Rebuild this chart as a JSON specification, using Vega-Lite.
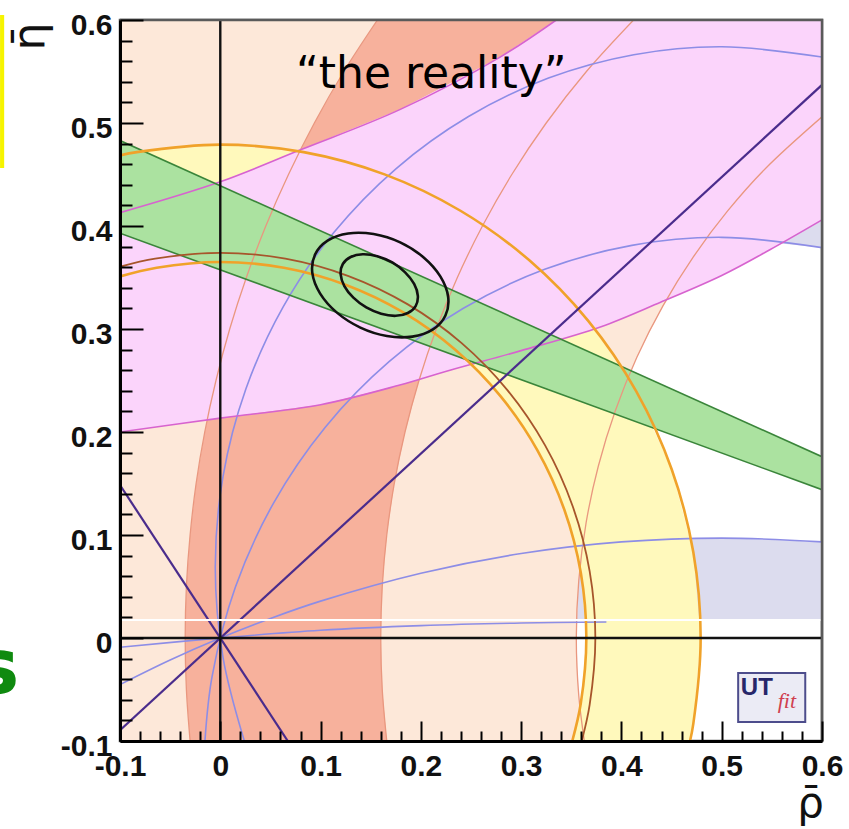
{
  "$schema": "https://vega.github.io/schema/vega-lite/v6.json",
  "width": 702,
  "height": 721,
  "autosize": {"type": "none"},
  "padding": {"left": 120, "top": 20, "right": 27, "bottom": 88},
  "background": "white",
  "config": {
    "view": {"stroke": "#555555", "strokeWidth": 2.5},
    "axis": {
      "grid": false,
      "domainColor": "#000000",
      "domainWidth": 3,
      "tickColor": "#000000",
      "tickWidth": 2,
      "labelFont": "Liberation Sans",
      "labelFontWeight": "bold",
      "labelFontSize": 30,
      "labelColor": "#111111",
      "labelOverlap": false,
      "labelFlush": false,
      "labelBound": false,
      "titleFont": "DejaVu Sans",
      "titleFontWeight": "normal",
      "titleColor": "#111111"
    }
  },
  "datasets": {
    "polys": [
      {"shape": "alphaHi", "i": 0, "x": 0.35, "y": 0.551},
      {"shape": "alphaHi", "i": 1, "x": 0.4123, "y": 0.5663},
      {"shape": "alphaHi", "i": 2, "x": 0.45, "y": 0.5715},
      {"shape": "alphaHi", "i": 3, "x": 0.5, "y": 0.574},
      {"shape": "alphaHi", "i": 4, "x": 0.6, "y": 0.564},
      {"shape": "alphaHi", "i": 5, "x": 0.6, "y": 0.379},
      {"shape": "alphaHi", "i": 6, "x": 0.5, "y": 0.3888},
      {"shape": "alphaHi", "i": 7, "x": 0.45, "y": 0.3863},
      {"shape": "alphaHi", "i": 8, "x": 0.4104, "y": 0.3812},
      {"shape": "alphaHi", "i": 9, "x": 0.35, "y": 0.3665},

      {"shape": "alphaLo", "i": 0, "x": 0.3, "y": 0.082},
      {"shape": "alphaLo", "i": 1, "x": 0.4, "y": 0.0933},
      {"shape": "alphaLo", "i": 2, "x": 0.5, "y": 0.097},
      {"shape": "alphaLo", "i": 3, "x": 0.6, "y": 0.0933},
      {"shape": "alphaLo", "i": 4, "x": 0.6, "y": 0.0175},
      {"shape": "alphaLo", "i": 5, "x": 0.3, "y": 0.0175},

      {"shape": "peach", "i": 0, "x": -0.1, "y": -0.1},
      {"shape": "peach", "i": 1, "x": -0.1, "y": 0.6},
      {"shape": "peach", "i": 2, "x": 0.6, "y": 0.6},
      {"shape": "peach", "i": 3, "x": 0.6, "y": 0.506},
      {"shape": "peach", "i": 4, "x": 0.5439, "y": 0.4561},
      {"shape": "peach", "i": 5, "x": 0.5059, "y": 0.4146},
      {"shape": "peach", "i": 6, "x": 0.4717, "y": 0.37},
      {"shape": "peach", "i": 7, "x": 0.4414, "y": 0.3225},
      {"shape": "peach", "i": 8, "x": 0.4154, "y": 0.2726},
      {"shape": "peach", "i": 9, "x": 0.3939, "y": 0.2206},
      {"shape": "peach", "i": 10, "x": 0.377, "y": 0.167},
      {"shape": "peach", "i": 11, "x": 0.3648, "y": 0.112},
      {"shape": "peach", "i": 12, "x": 0.3575, "y": 0.0562},
      {"shape": "peach", "i": 13, "x": 0.355, "y": 0.0},
      {"shape": "peach", "i": 14, "x": 0.3575, "y": -0.0562},
      {"shape": "peach", "i": 15, "x": 0.363, "y": -0.1},

      {"shape": "salmon", "i": 0, "x": -0.0301, "y": -0.1},
      {"shape": "salmon", "i": 1, "x": -0.0338, "y": -0.05},
      {"shape": "salmon", "i": 2, "x": -0.035, "y": 0.0},
      {"shape": "salmon", "i": 3, "x": -0.0338, "y": 0.05},
      {"shape": "salmon", "i": 4, "x": -0.0301, "y": 0.1},
      {"shape": "salmon", "i": 5, "x": -0.0241, "y": 0.15},
      {"shape": "salmon", "i": 6, "x": -0.0155, "y": 0.2},
      {"shape": "salmon", "i": 7, "x": -0.0043, "y": 0.25},
      {"shape": "salmon", "i": 8, "x": 0.0094, "y": 0.3},
      {"shape": "salmon", "i": 9, "x": 0.026, "y": 0.35},
      {"shape": "salmon", "i": 10, "x": 0.0454, "y": 0.4},
      {"shape": "salmon", "i": 11, "x": 0.068, "y": 0.45},
      {"shape": "salmon", "i": 12, "x": 0.0938, "y": 0.5},
      {"shape": "salmon", "i": 13, "x": 0.1232, "y": 0.55},
      {"shape": "salmon", "i": 14, "x": 0.1567, "y": 0.6},
      {"shape": "salmon", "i": 15, "x": 0.4121, "y": 0.6},
      {"shape": "salmon", "i": 16, "x": 0.3651, "y": 0.55},
      {"shape": "salmon", "i": 17, "x": 0.325, "y": 0.5},
      {"shape": "salmon", "i": 18, "x": 0.2907, "y": 0.45},
      {"shape": "salmon", "i": 19, "x": 0.2614, "y": 0.4},
      {"shape": "salmon", "i": 20, "x": 0.2364, "y": 0.35},
      {"shape": "salmon", "i": 21, "x": 0.2154, "y": 0.3},
      {"shape": "salmon", "i": 22, "x": 0.1981, "y": 0.25},
      {"shape": "salmon", "i": 23, "x": 0.1842, "y": 0.2},
      {"shape": "salmon", "i": 24, "x": 0.1735, "y": 0.15},
      {"shape": "salmon", "i": 25, "x": 0.166, "y": 0.1},
      {"shape": "salmon", "i": 26, "x": 0.1615, "y": 0.05},
      {"shape": "salmon", "i": 27, "x": 0.16, "y": 0.0},
      {"shape": "salmon", "i": 28, "x": 0.1615, "y": -0.05},
      {"shape": "salmon", "i": 29, "x": 0.166, "y": -0.1},

      {"shape": "yellow", "i": 0, "x": -0.1, "y": 0.4685},
      {"shape": "yellow", "i": 1, "x": -0.0832, "y": 0.4717},
      {"shape": "yellow", "i": 2, "x": 0.0, "y": 0.479},
      {"shape": "yellow", "i": 3, "x": 0.0832, "y": 0.4717},
      {"shape": "yellow", "i": 4, "x": 0.1638, "y": 0.4501},
      {"shape": "yellow", "i": 5, "x": 0.2395, "y": 0.4148},
      {"shape": "yellow", "i": 6, "x": 0.3079, "y": 0.3669},
      {"shape": "yellow", "i": 7, "x": 0.3669, "y": 0.3079},
      {"shape": "yellow", "i": 8, "x": 0.4148, "y": 0.2395},
      {"shape": "yellow", "i": 9, "x": 0.4501, "y": 0.1638},
      {"shape": "yellow", "i": 10, "x": 0.4717, "y": 0.0832},
      {"shape": "yellow", "i": 11, "x": 0.479, "y": 0.0},
      {"shape": "yellow", "i": 12, "x": 0.4717, "y": -0.0832},
      {"shape": "yellow", "i": 13, "x": 0.4684, "y": -0.1},
      {"shape": "yellow", "i": 14, "x": 0.351, "y": -0.1},
      {"shape": "yellow", "i": 15, "x": 0.3595, "y": -0.0634},
      {"shape": "yellow", "i": 16, "x": 0.365, "y": 0.0},
      {"shape": "yellow", "i": 17, "x": 0.3595, "y": 0.0634},
      {"shape": "yellow", "i": 18, "x": 0.343, "y": 0.1248},
      {"shape": "yellow", "i": 19, "x": 0.3161, "y": 0.1825},
      {"shape": "yellow", "i": 20, "x": 0.2796, "y": 0.2346},
      {"shape": "yellow", "i": 21, "x": 0.2346, "y": 0.2796},
      {"shape": "yellow", "i": 22, "x": 0.1825, "y": 0.3161},
      {"shape": "yellow", "i": 23, "x": 0.1248, "y": 0.343},
      {"shape": "yellow", "i": 24, "x": 0.0634, "y": 0.3595},
      {"shape": "yellow", "i": 25, "x": 0.0, "y": 0.365},
      {"shape": "yellow", "i": 26, "x": -0.0634, "y": 0.3595},
      {"shape": "yellow", "i": 27, "x": -0.1, "y": 0.351},

      {"shape": "pink", "i": 0, "x": -0.1, "y": 0.2},
      {"shape": "pink", "i": 1, "x": 0.0, "y": 0.2135},
      {"shape": "pink", "i": 2, "x": 0.1, "y": 0.2265},
      {"shape": "pink", "i": 3, "x": 0.179, "y": 0.2456},
      {"shape": "pink", "i": 4, "x": 0.229, "y": 0.26},
      {"shape": "pink", "i": 5, "x": 0.3, "y": 0.279},
      {"shape": "pink", "i": 6, "x": 0.379, "y": 0.302},
      {"shape": "pink", "i": 7, "x": 0.439, "y": 0.326},
      {"shape": "pink", "i": 8, "x": 0.5, "y": 0.352},
      {"shape": "pink", "i": 9, "x": 0.548, "y": 0.377},
      {"shape": "pink", "i": 10, "x": 0.6, "y": 0.406},
      {"shape": "pink", "i": 11, "x": 0.6, "y": 0.6},
      {"shape": "pink", "i": 12, "x": 0.335, "y": 0.6},
      {"shape": "pink", "i": 13, "x": 0.279, "y": 0.564},
      {"shape": "pink", "i": 14, "x": 0.179, "y": 0.513},
      {"shape": "pink", "i": 15, "x": 0.08, "y": 0.474},
      {"shape": "pink", "i": 16, "x": 0.0, "y": 0.443},
      {"shape": "pink", "i": 17, "x": -0.1, "y": 0.413},

      {"shape": "green", "i": 0, "x": -0.1, "y": 0.483},
      {"shape": "green", "i": 1, "x": 0.6, "y": 0.176},
      {"shape": "green", "i": 2, "x": 0.6, "y": 0.144},
      {"shape": "green", "i": 3, "x": -0.1, "y": 0.393}
    ],
    "curves": [
      {"k": "edge", "id": "A", "i": 0, "x": -0.0301, "y": -0.1},
      {"k": "edge", "id": "A", "i": 1, "x": -0.0338, "y": -0.05},
      {"k": "edge", "id": "A", "i": 2, "x": -0.035, "y": 0.0},
      {"k": "edge", "id": "A", "i": 3, "x": -0.0338, "y": 0.05},
      {"k": "edge", "id": "A", "i": 4, "x": -0.0301, "y": 0.1},
      {"k": "edge", "id": "A", "i": 5, "x": -0.0241, "y": 0.15},
      {"k": "edge", "id": "A", "i": 6, "x": -0.0155, "y": 0.2},
      {"k": "edge", "id": "A", "i": 7, "x": -0.0043, "y": 0.25},
      {"k": "edge", "id": "A", "i": 8, "x": 0.0094, "y": 0.3},
      {"k": "edge", "id": "A", "i": 9, "x": 0.026, "y": 0.35},
      {"k": "edge", "id": "A", "i": 10, "x": 0.0454, "y": 0.4},
      {"k": "edge", "id": "A", "i": 11, "x": 0.068, "y": 0.45},
      {"k": "edge", "id": "A", "i": 12, "x": 0.0938, "y": 0.5},
      {"k": "edge", "id": "A", "i": 13, "x": 0.1232, "y": 0.55},
      {"k": "edge", "id": "A", "i": 14, "x": 0.1567, "y": 0.6},
      {"k": "edge", "id": "B", "i": 0, "x": 0.166, "y": -0.1},
      {"k": "edge", "id": "B", "i": 1, "x": 0.1615, "y": -0.05},
      {"k": "edge", "id": "B", "i": 2, "x": 0.16, "y": 0.0},
      {"k": "edge", "id": "B", "i": 3, "x": 0.1615, "y": 0.05},
      {"k": "edge", "id": "B", "i": 4, "x": 0.166, "y": 0.1},
      {"k": "edge", "id": "B", "i": 5, "x": 0.1735, "y": 0.15},
      {"k": "edge", "id": "B", "i": 6, "x": 0.1842, "y": 0.2},
      {"k": "edge", "id": "B", "i": 7, "x": 0.1981, "y": 0.25},
      {"k": "edge", "id": "B", "i": 8, "x": 0.2154, "y": 0.3},
      {"k": "edge", "id": "B", "i": 9, "x": 0.2364, "y": 0.35},
      {"k": "edge", "id": "B", "i": 10, "x": 0.2614, "y": 0.4},
      {"k": "edge", "id": "B", "i": 11, "x": 0.2907, "y": 0.45},
      {"k": "edge", "id": "B", "i": 12, "x": 0.325, "y": 0.5},
      {"k": "edge", "id": "B", "i": 13, "x": 0.3651, "y": 0.55},
      {"k": "edge", "id": "B", "i": 14, "x": 0.4121, "y": 0.6},
      {"k": "edge", "id": "C", "i": 0, "x": 0.363, "y": -0.1},
      {"k": "edge", "id": "C", "i": 1, "x": 0.3575, "y": -0.0562},
      {"k": "edge", "id": "C", "i": 2, "x": 0.355, "y": 0.0},
      {"k": "edge", "id": "C", "i": 3, "x": 0.3575, "y": 0.0562},
      {"k": "edge", "id": "C", "i": 4, "x": 0.3648, "y": 0.112},
      {"k": "edge", "id": "C", "i": 5, "x": 0.377, "y": 0.167},
      {"k": "edge", "id": "C", "i": 6, "x": 0.3939, "y": 0.2206},
      {"k": "edge", "id": "C", "i": 7, "x": 0.4154, "y": 0.2726},
      {"k": "edge", "id": "C", "i": 8, "x": 0.4414, "y": 0.3225},
      {"k": "edge", "id": "C", "i": 9, "x": 0.4717, "y": 0.37},
      {"k": "edge", "id": "C", "i": 10, "x": 0.5059, "y": 0.4146},
      {"k": "edge", "id": "C", "i": 11, "x": 0.5439, "y": 0.4561},
      {"k": "edge", "id": "C", "i": 12, "x": 0.6, "y": 0.506},

      {"k": "alpha", "id": "b1", "i": 0, "x": 0.024, "y": -0.1},
      {"k": "alpha", "id": "b1", "i": 1, "x": 0.0027, "y": -0.0187},
      {"k": "alpha", "id": "b1", "i": 2, "x": -0.005, "y": 0.069},
      {"k": "alpha", "id": "b1", "i": 3, "x": 0.0027, "y": 0.1567},
      {"k": "alpha", "id": "b1", "i": 4, "x": 0.0255, "y": 0.2417},
      {"k": "alpha", "id": "b1", "i": 5, "x": 0.0627, "y": 0.3215},
      {"k": "alpha", "id": "b1", "i": 6, "x": 0.1132, "y": 0.3936},
      {"k": "alpha", "id": "b1", "i": 7, "x": 0.1754, "y": 0.4558},
      {"k": "alpha", "id": "b1", "i": 8, "x": 0.2475, "y": 0.5063},
      {"k": "alpha", "id": "b1", "i": 9, "x": 0.3273, "y": 0.5436},
      {"k": "alpha", "id": "b1", "i": 10, "x": 0.4123, "y": 0.5663},
      {"k": "alpha", "id": "b1", "i": 11, "x": 0.5, "y": 0.574},
      {"k": "alpha", "id": "b1", "i": 12, "x": 0.6, "y": 0.564},
      {"k": "alpha", "id": "b2", "i": 0, "x": -0.0153, "y": -0.1},
      {"k": "alpha", "id": "b2", "i": 1, "x": -0.0082, "y": -0.0374},
      {"k": "alpha", "id": "b2", "i": 2, "x": 0.0151, "y": 0.0495},
      {"k": "alpha", "id": "b2", "i": 3, "x": 0.0531, "y": 0.131},
      {"k": "alpha", "id": "b2", "i": 4, "x": 0.1047, "y": 0.2047},
      {"k": "alpha", "id": "b2", "i": 5, "x": 0.1683, "y": 0.2683},
      {"k": "alpha", "id": "b2", "i": 6, "x": 0.242, "y": 0.3199},
      {"k": "alpha", "id": "b2", "i": 7, "x": 0.3235, "y": 0.3579},
      {"k": "alpha", "id": "b2", "i": 8, "x": 0.4104, "y": 0.3812},
      {"k": "alpha", "id": "b2", "i": 9, "x": 0.5, "y": 0.389},
      {"k": "alpha", "id": "b2", "i": 10, "x": 0.6, "y": 0.379},
      {"k": "alpha", "id": "b3", "i": 0, "x": -0.1, "y": -0.0452},
      {"k": "alpha", "id": "b3", "i": 1, "x": -0.05, "y": -0.0213},
      {"k": "alpha", "id": "b3", "i": 2, "x": 0.0, "y": 0.0},
      {"k": "alpha", "id": "b3", "i": 3, "x": 0.05, "y": 0.019},
      {"k": "alpha", "id": "b3", "i": 4, "x": 0.1, "y": 0.0358},
      {"k": "alpha", "id": "b3", "i": 5, "x": 0.2, "y": 0.0629},
      {"k": "alpha", "id": "b3", "i": 6, "x": 0.3, "y": 0.082},
      {"k": "alpha", "id": "b3", "i": 7, "x": 0.4, "y": 0.0933},
      {"k": "alpha", "id": "b3", "i": 8, "x": 0.5, "y": 0.097},
      {"k": "alpha", "id": "b3", "i": 9, "x": 0.6, "y": 0.0933},
      {"k": "alpha", "id": "b4", "i": 0, "x": -0.1, "y": -0.009},
      {"k": "alpha", "id": "b4", "i": 1, "x": 0.0, "y": 0.0},
      {"k": "alpha", "id": "b4", "i": 2, "x": 0.1, "y": 0.0075},
      {"k": "alpha", "id": "b4", "i": 3, "x": 0.2, "y": 0.012},
      {"k": "alpha", "id": "b4", "i": 4, "x": 0.3, "y": 0.0145},
      {"k": "alpha", "id": "b4", "i": 5, "x": 0.385, "y": 0.0155},

      {"k": "mag", "id": "m1", "i": 0, "x": -0.1, "y": 0.2},
      {"k": "mag", "id": "m1", "i": 1, "x": 0.0, "y": 0.2135},
      {"k": "mag", "id": "m1", "i": 2, "x": 0.1, "y": 0.2265},
      {"k": "mag", "id": "m1", "i": 3, "x": 0.179, "y": 0.2456},
      {"k": "mag", "id": "m1", "i": 4, "x": 0.229, "y": 0.26},
      {"k": "mag", "id": "m1", "i": 5, "x": 0.3, "y": 0.279},
      {"k": "mag", "id": "m1", "i": 6, "x": 0.379, "y": 0.302},
      {"k": "mag", "id": "m1", "i": 7, "x": 0.439, "y": 0.326},
      {"k": "mag", "id": "m1", "i": 8, "x": 0.5, "y": 0.352},
      {"k": "mag", "id": "m1", "i": 9, "x": 0.548, "y": 0.377},
      {"k": "mag", "id": "m1", "i": 10, "x": 0.6, "y": 0.406},
      {"k": "mag", "id": "m2", "i": 0, "x": -0.1, "y": 0.413},
      {"k": "mag", "id": "m2", "i": 1, "x": 0.0, "y": 0.443},
      {"k": "mag", "id": "m2", "i": 2, "x": 0.08, "y": 0.474},
      {"k": "mag", "id": "m2", "i": 3, "x": 0.179, "y": 0.513},
      {"k": "mag", "id": "m2", "i": 4, "x": 0.279, "y": 0.564},
      {"k": "mag", "id": "m2", "i": 5, "x": 0.335, "y": 0.6},

      {"k": "grn", "id": "gu", "i": 0, "x": -0.1, "y": 0.483},
      {"k": "grn", "id": "gu", "i": 1, "x": 0.6, "y": 0.176},
      {"k": "grn", "id": "gl", "i": 0, "x": -0.1, "y": 0.393},
      {"k": "grn", "id": "gl", "i": 1, "x": 0.6, "y": 0.144},

      {"k": "gamma", "id": "g1", "i": 0, "x": -0.1, "y": -0.0895},
      {"k": "gamma", "id": "g1", "i": 1, "x": 0.6, "y": 0.537},
      {"k": "gamma", "id": "g2", "i": 0, "x": -0.1, "y": 0.1485},
      {"k": "gamma", "id": "g2", "i": 1, "x": 0.0673, "y": -0.1},

      {"k": "orange", "id": "oo", "i": 0, "x": -0.1, "y": 0.4685},
      {"k": "orange", "id": "oo", "i": 1, "x": -0.0832, "y": 0.4717},
      {"k": "orange", "id": "oo", "i": 2, "x": 0.0, "y": 0.479},
      {"k": "orange", "id": "oo", "i": 3, "x": 0.0832, "y": 0.4717},
      {"k": "orange", "id": "oo", "i": 4, "x": 0.1638, "y": 0.4501},
      {"k": "orange", "id": "oo", "i": 5, "x": 0.2395, "y": 0.4148},
      {"k": "orange", "id": "oo", "i": 6, "x": 0.3079, "y": 0.3669},
      {"k": "orange", "id": "oo", "i": 7, "x": 0.3669, "y": 0.3079},
      {"k": "orange", "id": "oo", "i": 8, "x": 0.4148, "y": 0.2395},
      {"k": "orange", "id": "oo", "i": 9, "x": 0.4501, "y": 0.1638},
      {"k": "orange", "id": "oo", "i": 10, "x": 0.4717, "y": 0.0832},
      {"k": "orange", "id": "oo", "i": 11, "x": 0.479, "y": 0.0},
      {"k": "orange", "id": "oo", "i": 12, "x": 0.4717, "y": -0.0832},
      {"k": "orange", "id": "oo", "i": 13, "x": 0.4684, "y": -0.1},
      {"k": "orange", "id": "oi", "i": 0, "x": 0.351, "y": -0.1},
      {"k": "orange", "id": "oi", "i": 1, "x": 0.3595, "y": -0.0634},
      {"k": "orange", "id": "oi", "i": 2, "x": 0.365, "y": 0.0},
      {"k": "orange", "id": "oi", "i": 3, "x": 0.3595, "y": 0.0634},
      {"k": "orange", "id": "oi", "i": 4, "x": 0.343, "y": 0.1248},
      {"k": "orange", "id": "oi", "i": 5, "x": 0.3161, "y": 0.1825},
      {"k": "orange", "id": "oi", "i": 6, "x": 0.2796, "y": 0.2346},
      {"k": "orange", "id": "oi", "i": 7, "x": 0.2346, "y": 0.2796},
      {"k": "orange", "id": "oi", "i": 8, "x": 0.1825, "y": 0.3161},
      {"k": "orange", "id": "oi", "i": 9, "x": 0.1248, "y": 0.343},
      {"k": "orange", "id": "oi", "i": 10, "x": 0.0634, "y": 0.3595},
      {"k": "orange", "id": "oi", "i": 11, "x": 0.0, "y": 0.365},
      {"k": "orange", "id": "oi", "i": 12, "x": -0.0634, "y": 0.3595},
      {"k": "orange", "id": "oi", "i": 13, "x": -0.1, "y": 0.351},

      {"k": "brown", "id": "br", "i": 0, "x": 0.3604, "y": -0.1},
      {"k": "brown", "id": "br", "i": 1, "x": 0.3683, "y": -0.0649},
      {"k": "brown", "id": "br", "i": 2, "x": 0.374, "y": 0.0},
      {"k": "brown", "id": "br", "i": 3, "x": 0.3683, "y": 0.0649},
      {"k": "brown", "id": "br", "i": 4, "x": 0.3514, "y": 0.1279},
      {"k": "brown", "id": "br", "i": 5, "x": 0.3239, "y": 0.187},
      {"k": "brown", "id": "br", "i": 6, "x": 0.2865, "y": 0.2404},
      {"k": "brown", "id": "br", "i": 7, "x": 0.2404, "y": 0.2865},
      {"k": "brown", "id": "br", "i": 8, "x": 0.187, "y": 0.3239},
      {"k": "brown", "id": "br", "i": 9, "x": 0.1279, "y": 0.3514},
      {"k": "brown", "id": "br", "i": 10, "x": 0.0649, "y": 0.3683},
      {"k": "brown", "id": "br", "i": 11, "x": 0.0, "y": 0.374},
      {"k": "brown", "id": "br", "i": 12, "x": -0.0649, "y": 0.3683},
      {"k": "brown", "id": "br", "i": 13, "x": -0.1, "y": 0.3604},

      {"k": "zero", "id": "vz", "i": 0, "x": 0.0, "y": -0.1},
      {"k": "zero", "id": "vz", "i": 1, "x": 0.0, "y": 0.6},
      {"k": "zero", "id": "hz", "i": 0, "x": -0.1, "y": 0.0},
      {"k": "zero", "id": "hz", "i": 1, "x": 0.6, "y": 0.0},

      {"k": "gap", "id": "gp", "i": 0, "x": -0.1, "y": 0.0175},
      {"k": "gap", "id": "gp", "i": 1, "x": 0.6, "y": 0.0175},

      {"k": "frame", "id": "fr", "i": 0, "x": -0.1, "y": 0.6},
      {"k": "frame", "id": "fr", "i": 1, "x": 0.6, "y": 0.6},
      {"k": "frame", "id": "fr", "i": 2, "x": 0.6, "y": -0.1}
    ],
    "contours": [
      {"id": "outer", "i": 0, "x": 0.2245, "y": 0.3131},
      {"id": "outer", "i": 1, "x": 0.2121, "y": 0.2996},
      {"id": "outer", "i": 2, "x": 0.1915, "y": 0.2926},
      {"id": "outer", "i": 3, "x": 0.1661, "y": 0.2932},
      {"id": "outer", "i": 4, "x": 0.1397, "y": 0.3014},
      {"id": "outer", "i": 5, "x": 0.1163, "y": 0.3159},
      {"id": "outer", "i": 6, "x": 0.0996, "y": 0.3344},
      {"id": "outer", "i": 7, "x": 0.0918, "y": 0.3542},
      {"id": "outer", "i": 8, "x": 0.0945, "y": 0.3723},
      {"id": "outer", "i": 9, "x": 0.107, "y": 0.3858},
      {"id": "outer", "i": 10, "x": 0.1275, "y": 0.3928},
      {"id": "outer", "i": 11, "x": 0.1529, "y": 0.3922},
      {"id": "outer", "i": 12, "x": 0.1794, "y": 0.3841},
      {"id": "outer", "i": 13, "x": 0.2028, "y": 0.3695},
      {"id": "outer", "i": 14, "x": 0.2194, "y": 0.3511},
      {"id": "outer", "i": 15, "x": 0.2272, "y": 0.3313},
      {"id": "inner", "i": 0, "x": 0.1948, "y": 0.3223},
      {"id": "inner", "i": 1, "x": 0.187, "y": 0.3155},
      {"id": "inner", "i": 2, "x": 0.175, "y": 0.3128},
      {"id": "inner", "i": 3, "x": 0.1604, "y": 0.3148},
      {"id": "inner", "i": 4, "x": 0.1456, "y": 0.3209},
      {"id": "inner", "i": 5, "x": 0.1327, "y": 0.3304},
      {"id": "inner", "i": 6, "x": 0.1237, "y": 0.3417},
      {"id": "inner", "i": 7, "x": 0.12, "y": 0.3532},
      {"id": "inner", "i": 8, "x": 0.1222, "y": 0.3631},
      {"id": "inner", "i": 9, "x": 0.13, "y": 0.3699},
      {"id": "inner", "i": 10, "x": 0.1421, "y": 0.3726},
      {"id": "inner", "i": 11, "x": 0.1566, "y": 0.3707},
      {"id": "inner", "i": 12, "x": 0.1715, "y": 0.3646},
      {"id": "inner", "i": 13, "x": 0.1843, "y": 0.355},
      {"id": "inner", "i": 14, "x": 0.1933, "y": 0.3438},
      {"id": "inner", "i": 15, "x": 0.197, "y": 0.3322}
    ]
  },
  "encoding": {
    "x": {
      "field": "x",
      "type": "quantitative",
      "scale": {"domain": [-0.1, 0.6], "nice": false, "zero": false},
      "axis": {
        "zindex": 2,
        "title": "ρ̄",
        "titleFontSize": 42,
        "titleX": 690,
        "titleY": 62,
        "titleAlign": "center",
        "titleBaseline": "middle",
        "values": [-0.1, -0.08, -0.06, -0.04, -0.02, 0, 0.02, 0.04, 0.06, 0.08, 0.1, 0.12, 0.14, 0.16, 0.18, 0.2, 0.22, 0.24, 0.26, 0.28, 0.3, 0.32, 0.34, 0.36, 0.38, 0.4, 0.42, 0.44, 0.46, 0.48, 0.5, 0.52, 0.54, 0.56, 0.58, 0.6],
        "labelExpr": "abs(datum.value * 10 - round(datum.value * 10)) < 1e-6 ? (datum.value < -1e-9 ? '-' : '') + format(abs(datum.value), '.1~f') : ''",
        "tickSize": {"condition": {"test": "abs(datum.value * 10 - round(datum.value * 10)) < 1e-6", "value": -20}, "value": -10},
        "labelPadding": 30,
        "labelBaseline": "top"
      }
    },
    "y": {
      "field": "y",
      "type": "quantitative",
      "scale": {"domain": [-0.1, 0.6], "nice": false, "zero": false},
      "axis": {
        "zindex": 2,
        "title": "η̄",
        "titleFontSize": 44,
        "titleX": -90,
        "titleY": 16,
        "titleAngle": 270,
        "titleAlign": "center",
        "titleBaseline": "middle",
        "values": [-0.1, -0.08, -0.06, -0.04, -0.02, 0, 0.02, 0.04, 0.06, 0.08, 0.1, 0.12, 0.14, 0.16, 0.18, 0.2, 0.22, 0.24, 0.26, 0.28, 0.3, 0.32, 0.34, 0.36, 0.38, 0.4, 0.42, 0.44, 0.46, 0.48, 0.5, 0.52, 0.54, 0.56, 0.58, 0.6],
        "labelExpr": "abs(datum.value * 10 - round(datum.value * 10)) < 1e-6 ? (datum.value < -1e-9 ? '-' : '') + format(abs(datum.value), '.1~f') : ''",
        "tickSize": {"condition": {"test": "abs(datum.value * 10 - round(datum.value * 10)) < 1e-6", "value": -23}, "value": -12},
        "labelPadding": 31,
        "labelOffset": 5
      }
    }
  },
  "layer": [
    {"data": {"name": "polys"}, "transform": [{"filter": "datum.shape === 'alphaHi'"}],
     "mark": {"type": "line", "fill": "#dcdcee", "stroke": null, "clip": true},
     "encoding": {"order": {"field": "i", "type": "quantitative"}}},
    {"data": {"name": "polys"}, "transform": [{"filter": "datum.shape === 'alphaLo'"}],
     "mark": {"type": "line", "fill": "#dcdcee", "stroke": null, "clip": true},
     "encoding": {"order": {"field": "i", "type": "quantitative"}}},
    {"data": {"name": "polys"}, "transform": [{"filter": "datum.shape === 'peach'"}],
     "mark": {"type": "line", "fill": "#fde8d9", "stroke": null, "clip": true},
     "encoding": {"order": {"field": "i", "type": "quantitative"}}},
    {"data": {"name": "polys"}, "transform": [{"filter": "datum.shape === 'salmon'"}],
     "mark": {"type": "line", "fill": "#f7b19c", "stroke": null, "clip": true},
     "encoding": {"order": {"field": "i", "type": "quantitative"}}},
    {"data": {"name": "polys"}, "transform": [{"filter": "datum.shape === 'yellow'"}],
     "mark": {"type": "line", "fill": "#fff9bc", "stroke": null, "clip": true},
     "encoding": {"order": {"field": "i", "type": "quantitative"}}},
    {"data": {"name": "polys"}, "transform": [{"filter": "datum.shape === 'pink'"}],
     "mark": {"type": "line", "fill": "#fbd4fb", "stroke": null, "clip": true},
     "encoding": {"order": {"field": "i", "type": "quantitative"}}},
    {"data": {"name": "polys"}, "transform": [{"filter": "datum.shape === 'green'"}],
     "mark": {"type": "line", "fill": "#abe2a0", "stroke": null, "clip": true},
     "encoding": {"order": {"field": "i", "type": "quantitative"}}},

    {"data": {"name": "curves"}, "transform": [{"filter": "datum.k === 'edge'"}],
     "mark": {"type": "line", "stroke": "#e9977f", "strokeWidth": 1.3, "interpolate": "catmull-rom", "clip": true},
     "encoding": {"order": {"field": "i", "type": "quantitative"}, "detail": {"field": "id"}}},
    {"data": {"name": "curves"}, "transform": [{"filter": "datum.k === 'alpha'"}],
     "mark": {"type": "line", "stroke": "#8d8de6", "strokeWidth": 1.6, "interpolate": "catmull-rom", "clip": true},
     "encoding": {"order": {"field": "i", "type": "quantitative"}, "detail": {"field": "id"}}},
    {"data": {"name": "curves"}, "transform": [{"filter": "datum.k === 'mag'"}],
     "mark": {"type": "line", "stroke": "#d763cf", "strokeWidth": 1.6, "interpolate": "catmull-rom", "clip": true},
     "encoding": {"order": {"field": "i", "type": "quantitative"}, "detail": {"field": "id"}}},
    {"data": {"name": "curves"}, "transform": [{"filter": "datum.k === 'grn'"}],
     "mark": {"type": "line", "stroke": "#3a853a", "strokeWidth": 1.6, "clip": true},
     "encoding": {"order": {"field": "i", "type": "quantitative"}, "detail": {"field": "id"}}},
    {"data": {"name": "curves"}, "transform": [{"filter": "datum.k === 'orange'"}],
     "mark": {"type": "line", "stroke": "#f0a22a", "strokeWidth": 2.6, "interpolate": "catmull-rom", "clip": true},
     "encoding": {"order": {"field": "i", "type": "quantitative"}, "detail": {"field": "id"}}},
    {"data": {"name": "curves"}, "transform": [{"filter": "datum.k === 'brown'"}],
     "mark": {"type": "line", "stroke": "#a7552b", "strokeWidth": 1.8, "interpolate": "catmull-rom", "clip": true},
     "encoding": {"order": {"field": "i", "type": "quantitative"}, "detail": {"field": "id"}}},
    {"data": {"name": "curves"}, "transform": [{"filter": "datum.k === 'gamma'"}],
     "mark": {"type": "line", "stroke": "#4a2c8c", "strokeWidth": 2.2, "clip": true},
     "encoding": {"order": {"field": "i", "type": "quantitative"}, "detail": {"field": "id"}}},
    {"data": {"name": "curves"}, "transform": [{"filter": "datum.k === 'zero'"}],
     "mark": {"type": "line", "stroke": "#111111", "strokeWidth": 2.4, "clip": true},
     "encoding": {"order": {"field": "i", "type": "quantitative"}, "detail": {"field": "id"}}},
    {"data": {"name": "curves"}, "transform": [{"filter": "datum.k === 'gap'"}],
     "mark": {"type": "line", "stroke": "#ffffff", "strokeWidth": 2, "clip": true},
     "encoding": {"order": {"field": "i", "type": "quantitative"}, "detail": {"field": "id"}}},
    {"data": {"name": "curves"}, "transform": [{"filter": "datum.k === 'frame'"}],
     "mark": {"type": "line", "stroke": "#5a5a5a", "strokeWidth": 2.5, "clip": false},
     "encoding": {"order": {"field": "i", "type": "quantitative"}, "detail": {"field": "id"}}},
    {"data": {"name": "contours"},
     "mark": {"type": "line", "stroke": "#111111", "strokeWidth": 2.6, "interpolate": "cardinal-closed", "clip": true},
     "encoding": {"order": {"field": "i", "type": "quantitative"}, "detail": {"field": "id"}}},

    {"data": {"values": [{"x": 0.5164, "x2": 0.5833, "y": -0.034, "y2": -0.0816}]},
     "mark": {"type": "rect", "fill": "#ebebf5", "stroke": "#4d4d8c", "strokeWidth": 2},
     "encoding": {"x2": {"field": "x2"}, "y2": {"field": "y2"}}},
    {"data": {"values": [{"t": "UT", "x": 0.535, "y": -0.0485}]},
     "mark": {"type": "text", "font": "Liberation Sans", "fontWeight": "bold", "fontSize": 24, "color": "#26266a", "align": "center", "baseline": "middle"},
     "encoding": {"text": {"field": "t"}}},
    {"data": {"values": [{"t": "fit", "x": 0.565, "y": -0.061}]},
     "mark": {"type": "text", "font": "Liberation Serif", "fontStyle": "italic", "fontSize": 22, "color": "#d0404f", "align": "center", "baseline": "middle"},
     "encoding": {"text": {"field": "t"}}},
    {"data": {"values": [{"t": "“the reality”", "x": 0.2104, "y": 0.534}]},
     "mark": {"type": "text", "font": "DejaVu Sans", "fontSize": 44, "color": "#000000", "align": "center", "baseline": "alphabetic"},
     "encoding": {"text": {"field": "t"}}},
    {"data": {"values": [{"x": -0.2196, "x2": -0.2155, "y": 0.6048, "y2": 0.4563}]},
     "mark": {"type": "rect", "fill": "#f6f400", "clip": false},
     "encoding": {"x2": {"field": "x2"}, "y2": {"field": "y2"}}},
    {"data": {"values": [{"t": "s", "x": -0.2004, "y": -0.0534}]},
     "mark": {"type": "text", "font": "DejaVu Sans", "fontWeight": "bold", "fontSize": 76, "color": "#0f8a0f", "align": "right", "baseline": "alphabetic", "clip": false},
     "encoding": {"text": {"field": "t"}}}
  ]
}
